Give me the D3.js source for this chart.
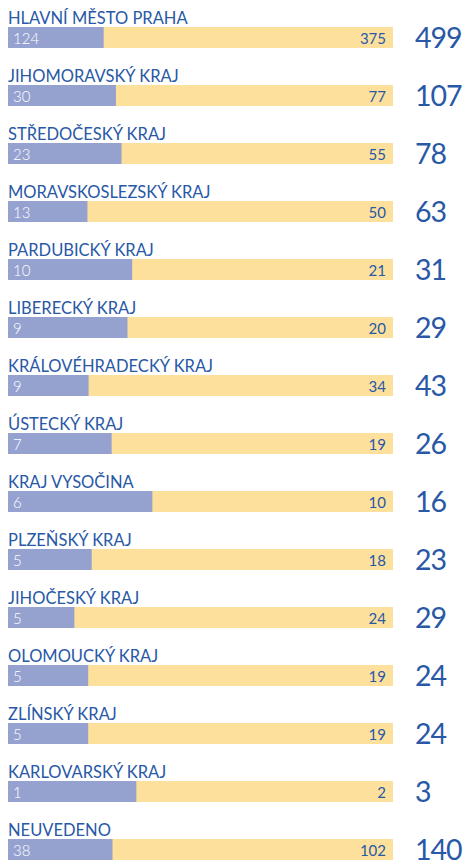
<!DOCTYPE html>
<html lang="cs">
<head>
    <meta charset="UTF-8">
    <title></title>
    <style type="text/css">
        html, body { padding:0; margin:0; background:#fff; }
        text { font-family: Lato, "Open Sans", sans-serif; }
    </style>
</head>
<body>
<script src="https://d3js.org/d3.v7.min.js"></script>
<script type="text/javascript">
    var regions = ['HLAVNÍ MĚSTO PRAHA', 'JIHOMORAVSKÝ KRAJ', 'STŘEDOČESKÝ KRAJ',
        'MORAVSKOSLEZSKÝ KRAJ', 'PARDUBICKÝ KRAJ', 'LIBERECKÝ KRAJ',
        'KRÁLOVÉHRADECKÝ KRAJ', 'ÚSTECKÝ KRAJ', 'KRAJ VYSOČINA', 'PLZEŇSKÝ KRAJ',
        'JIHOČESKÝ KRAJ', 'OLOMOUCKÝ KRAJ', 'ZLÍNSKÝ KRAJ', 'KARLOVARSKÝ KRAJ', 'NEUVEDENO'];
    var blueValues = [124, 30, 23, 13, 10, 9, 9, 7, 6, 5, 5, 5, 5, 1, 38];
    var yellowValues = [375, 77, 55, 50, 21, 20, 34, 19, 10, 18, 24, 19, 19, 2, 102];
    var totals = [499, 107, 78, 63, 31, 29, 43, 26, 16, 23, 29, 24, 24, 3, 140];

    var width = 467,
        height = 860,
        barLeft = 8,
        barRight = 393,
        barHeight = 21,
        blue = '#95a2d0',
        yellow = '#fde09c',
        textBlue = '#2858a6';

    var svg = d3.select('body').append('svg')
        .attr('width', width)
        .attr('height', height);

    var yScale = d3.scaleBand()
        .domain(regions)
        .range([27, 27 + 58 * regions.length])
        .paddingInner(0)
        .paddingOuter(0);

    var xScale = d3.scaleLinear().domain([0, 1]).range([barLeft, barRight]);

    var rows = svg.selectAll('g.row')
        .data(regions)
        .enter()
        .append('g')
        .attr('class', 'row')
        .attr('transform', function(d) { return 'translate(0,' + yScale(d) + ')'; });

    // yellow full bar underneath, blue share on top
    rows.append('rect')
        .attr('x', xScale(0))
        .attr('y', 0)
        .attr('width', xScale(1) - xScale(0))
        .attr('height', barHeight)
        .attr('fill', yellow);

    rows.append('rect')
        .attr('x', xScale(0))
        .attr('y', 0)
        .attr('width', function(d, i) {
            return xScale(blueValues[i] / (blueValues[i] + yellowValues[i])) - xScale(0);
        })
        .attr('height', barHeight)
        .attr('fill', blue);

    rows.append('text')
        .attr('x', barLeft)
        .attr('y', -3)
        .attr('fill', textBlue)
        .attr('font-size', 16.5)
        .text(function(d) { return d; });

    rows.append('text')
        .attr('x', barLeft + 5)
        .attr('y', 17)
        .attr('fill', '#fff')
        .attr('font-size', 15)
        .attr('font-weight', 300)
        .text(function(d, i) { return blueValues[i]; });

    rows.append('text')
        .attr('x', barRight - 7)
        .attr('y', 17)
        .attr('text-anchor', 'end')
        .attr('fill', textBlue)
        .attr('font-size', 15)
        .text(function(d, i) { return yellowValues[i]; });

    rows.append('text')
        .attr('x', 415)
        .attr('y', 21)
        .attr('fill', textBlue)
        .attr('font-size', 28.5)
        .attr('letter-spacing', -1)
        .text(function(d, i) { return totals[i]; });
</script>
</body>
</html>
